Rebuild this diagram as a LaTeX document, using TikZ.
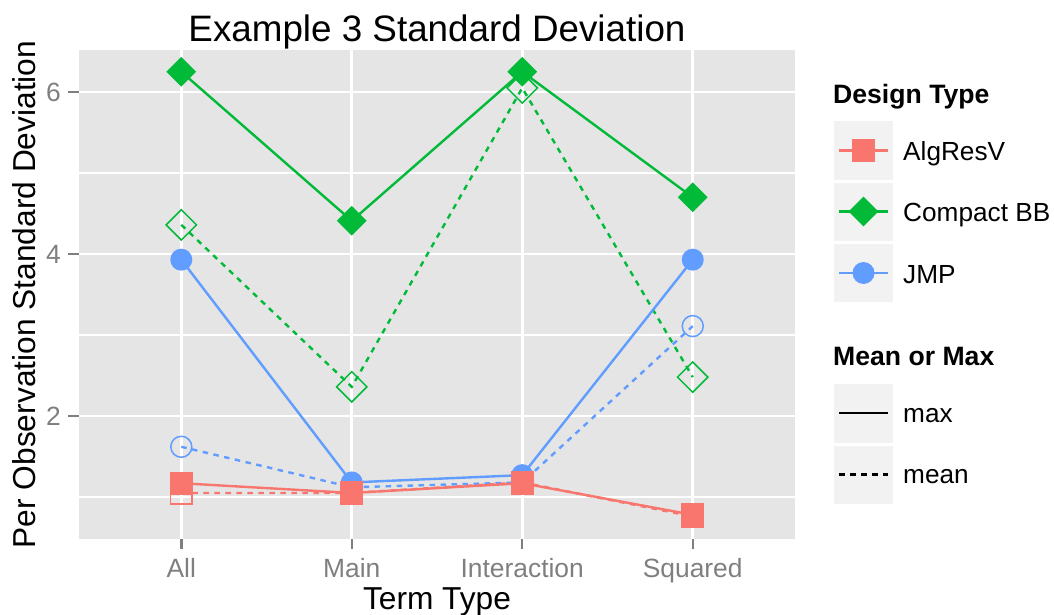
\documentclass[tikz,border=0pt]{standalone}
\usepackage{fontspec}
\setmainfont{Liberation Sans}
\usetikzlibrary{shapes.geometric}

\definecolor{cAlg}{HTML}{F8766D}
\definecolor{cCBB}{HTML}{00BA38}
\definecolor{cJMP}{HTML}{619CFF}
\definecolor{panelbg}{HTML}{E5E5E5}
\definecolor{keybg}{HTML}{F2F2F2}
\definecolor{axisgrey}{HTML}{7F7F7F}

\tikzset{
  majorgrid/.style={draw=white, line width=2.7pt},
  minorgrid/.style={draw=white, line width=1.4pt},
  tickmark/.style={draw=axisgrey, line width=2.4pt},
  ticklabel/.style={text=axisgrey, font=\fontsize{26.4}{30}\selectfont, inner sep=0pt},
  axistitle/.style={font=\fontsize{31.7}{35}\selectfont, inner sep=0pt},
  legtitle/.style={font=\fontsize{26.6}{30}\selectfont\bfseries, inner sep=0pt, anchor=base west},
  legtext/.style={font=\fontsize{26.2}{30}\selectfont, inner sep=0pt, anchor=base west},
  keybox/.style={fill=keybg, draw=none},
  maxline/.style={line width=2.4pt},
  meanline/.style={line width=2.4pt, dash pattern=on 5.5pt off 5.5pt},
  sqfill/.style={rectangle, fill=#1, draw=none, minimum size=23pt, inner sep=0pt},
  sqopen/.style={rectangle, draw=#1, fill=none, line width=1.5pt, minimum size=21.6pt, inner sep=0pt},
  dmfill/.style={diamond, aspect=1, fill=#1, draw=none, minimum size=30pt, inner sep=0pt},
  dmopen/.style={diamond, aspect=1, draw=#1, fill=none, line width=1.5pt, minimum size=31pt, inner sep=0pt},
  cirfill/.style={circle, fill=#1, draw=none, minimum size=22pt, inner sep=0pt},
  ciropen/.style={circle, draw=#1, fill=none, line width=1.5pt, minimum size=21pt, inner sep=0pt},
}

\begin{document}
\begin{tikzpicture}[x=1pt,y=-1pt]
\useasboundingbox (0,0) rectangle (1054,615);

% panel background and grid
\fill[panelbg] (79,50) rectangle (795,539);
\foreach \yy in {497,335,173} \draw[minorgrid] (79,\yy) -- (795,\yy);
\foreach \yy in {416,254,92} \draw[majorgrid] (79,\yy) -- (795,\yy);
\foreach \xx in {181.3,351.8,522.2,692.7} \draw[majorgrid] (\xx,50) -- (\xx,539);

% axis ticks and tick labels
\foreach \yy/\lab in {92/6,254/4,416/2} {
  \draw[tickmark] (68,\yy) -- (79,\yy);
  \node[ticklabel, anchor=east] (ylab\lab) at (61,\yy) {\lab};
}
\foreach \xx/\lab in {181.3/All,351.8/Main,522.2/Interaction,692.7/Squared} {
  \draw[tickmark] (\xx,539) -- (\xx,549);
  \node[ticklabel, anchor=base] (xlab\lab) at (\xx,577) {\lab};
}

% titles
\node[font=\fontsize{36.8}{40}\selectfont, inner sep=0pt, anchor=base] (title) at (437,42) {Example 3 Standard Deviation};
\node[axistitle, anchor=base] (xtitle) at (437,609) {Term Type};
\node[axistitle, anchor=base, rotate=90] (ytitle) at (35,294.5) {Per Observation Standard Deviation};

% data coordinates: x = category index, y = deviation
\begin{scope}[shift={(10.81,578)}, x=170.48pt, y=81pt]
  \coordinate (A1) at (1,1.17);  \coordinate (A2) at (2,1.05);
  \coordinate (A3) at (3,1.17);  \coordinate (A4) at (4,0.78);
  \coordinate (a1) at (1,1.05);  \coordinate (a2) at (2,1.05);
  \coordinate (a3) at (3,1.18);  \coordinate (a4) at (4,0.76);
  \coordinate (C1) at (1,6.25);  \coordinate (C2) at (2,4.41);
  \coordinate (C3) at (3,6.25);  \coordinate (C4) at (4,4.70);
  \coordinate (c1) at (1,4.36);  \coordinate (c2) at (2,2.36);
  \coordinate (c3) at (3,6.05);  \coordinate (c4) at (4,2.48);
  \coordinate (J1) at (1,3.93);  \coordinate (J2) at (2,1.18);
  \coordinate (J3) at (3,1.27);  \coordinate (J4) at (4,3.93);
  \coordinate (j1) at (1,1.62);  \coordinate (j2) at (2,1.12);
  \coordinate (j3) at (3,1.18);  \coordinate (j4) at (4,3.11);
\end{scope}

% series lines
\draw[meanline, cCBB] (c1) -- (c2) -- (c3) -- (c4);
\draw[maxline, cCBB] (C1) -- (C2) -- (C3) -- (C4);
\draw[meanline, cJMP] (j1) -- (j2) -- (j3) -- (j4);
\draw[maxline, cJMP] (J1) -- (J2) -- (J3) -- (J4);
\draw[meanline, cAlg] (a1) -- (a2) -- (a3) -- (a4);
\draw[maxline, cAlg] (A1) -- (A2) -- (A3) -- (A4);

% series markers
\foreach \i in {1,...,4} {
  \node[dmfill=cCBB] (mC\i) at (C\i) {};
  \node[dmopen=cCBB] (mc\i) at (c\i) {};
}
\foreach \i in {1,...,4} {
  \node[cirfill=cJMP] (mJ\i) at (J\i) {};
  \node[ciropen=cJMP] (mj\i) at (j\i) {};
}
\foreach \i in {1,...,4} {
  \node[sqfill=cAlg] (mA\i) at (A\i) {};
  \node[sqopen=cAlg] (ma\i) at (a\i) {};
}

% legend: design type
\node[legtitle] (legT1) at (833,103) {Design Type};
\fill[keybox] (834,121) rectangle (893,179.5);
\fill[keybox] (834,182.5) rectangle (893,240.5);
\fill[keybox] (834,243.5) rectangle (893,302);
\coordinate (kA0) at (839,150.5);   \coordinate (kA1) at (888,150.5);
\coordinate (kC0) at (839,211.5);   \coordinate (kC1) at (888,211.5);
\coordinate (kJ0) at (839,273);     \coordinate (kJ1) at (888,273);
\draw[maxline, cAlg] (kA0) -- (kA1);
\draw[maxline, cCBB] (kC0) -- (kC1);
\draw[maxline, cJMP] (kJ0) -- (kJ1);
\node[sqfill=cAlg] (kmA) at (863.5,150.5) {};
\node[dmfill=cCBB] (kmC) at (863.5,211.5) {};
\node[cirfill=cJMP] (kmJ) at (863.5,273) {};
\node[legtext] (legA) at (903,160.5) {AlgResV};
\node[legtext] (legC) at (903,221.5) {Compact BB};
\node[legtext] (legJ) at (903,283) {JMP};

% legend: mean or max
\node[legtitle] (legT2) at (833,365) {Mean or Max};
\fill[keybox] (834,384) rectangle (893,442.5);
\fill[keybox] (834,445.5) rectangle (893,504);
\coordinate (kx0) at (839,413);  \coordinate (kx1) at (888,413);
\coordinate (km0) at (839,474.5);  \coordinate (km1) at (888,474.5);
\draw[maxline, black] (kx0) -- (kx1);
\draw[meanline, black] (km0) -- (km1);
\node[legtext] (legMax) at (903,422) {max};
\node[legtext] (legMean) at (903,483.5) {mean};
\end{tikzpicture}
\end{document}
